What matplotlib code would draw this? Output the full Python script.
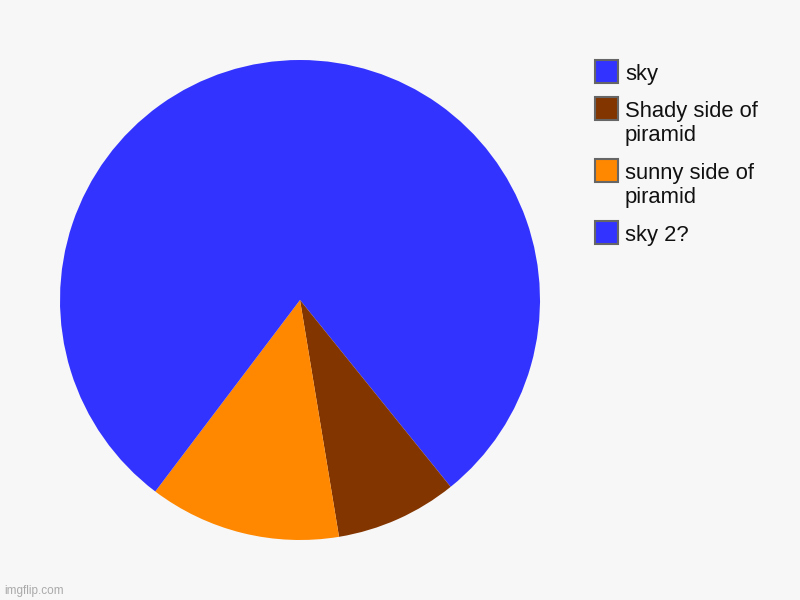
import matplotlib
matplotlib.use("Agg")
import matplotlib.pyplot as plt
from matplotlib.patches import Rectangle

labels = ["sky", "Shady side of\npiramid", "sunny side of\npiramid", "sky 2?"]
values = [39.2, 8.2, 12.9, 39.7]
colors = ["#3333ff", "#833500", "#ff8800", "#3333ff"]

BG = "#f7f7f7"
plt.rcParams['font.family'] = ['Liberation Sans', 'DejaVu Sans']

fig = plt.figure(figsize=(8, 6), dpi=100, facecolor=BG)
ax = fig.add_axes([0.075, 0.1, 0.6, 0.8])
ax.set_facecolor(BG)
ax.pie(values, colors=colors, startangle=90, counterclock=False, radius=1,
       wedgeprops=dict(linewidth=0))
ax.set_xlim(-1, 1)
ax.set_ylim(-1, 1)
ax.set_aspect('equal')
ax.axis('off')

# legend (manual, in figure pixel coordinates)
W, H = 800, 600
box_tops = [60, 97, 159, 221]
for lab, col, top in zip(labels, colors, box_tops):
    fig.add_artist(Rectangle((595 / W, 1 - (top + 23) / H), 23 / W, 23 / H,
                             transform=fig.transFigure, facecolor=col,
                             edgecolor="#666666", linewidth=1.5))
    for i, line in enumerate(lab.split("\n")):
        fig.text(625 / W, 1 - (top + 20 + 24 * i) / H, line, ha='left',
                 va='baseline', fontsize=15.8, color='#111111')

fig.text(4 / W, 1 - 591 / H, "imgflip.com", ha='left', va='center',
         fontsize=8.5, color='#aaaaaa')

fig.savefig("out.png", dpi=100, facecolor=BG)
